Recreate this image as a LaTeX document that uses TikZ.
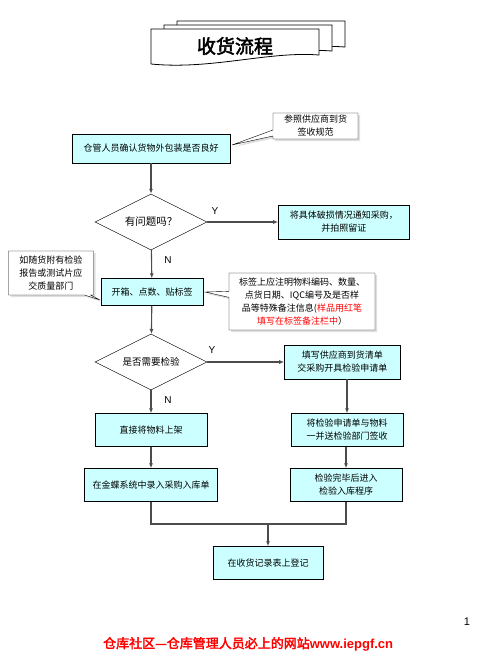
\documentclass[tikz,border=0pt]{standalone}
\usepackage{fontspec}
\setmainfont{Liberation Serif}
\setsansfont{Liberation Sans}
\newfontfamily\cjk[AutoFakeBold=2.5]{Noto Sans CJK SC}
\usetikzlibrary{arrows.meta, positioning, shapes.geometric, shapes.callouts, shadows}
\definecolor{boxfill}{HTML}{CCFFFF}
\newcommand{\pagesheet}[2]{%
  \draw[fill=white, line width=0.8pt] (#1,#2) -- ++(168,0) -- ++(0,26)
    .. controls ++(-50,-4) and ++(60,6) .. ++(-168,9) -- cycle;}

\begin{document}
\begin{tikzpicture}[x=1pt, y=-1pt,
  stepbox/.style={rectangle, draw, fill=boxfill, align=center, inner sep=2pt, font=\cjk\fontsize{9}{13}\selectfont},
  decision/.style={diamond, draw, aspect=2, inner sep=0pt, minimum width=112pt, minimum height=56pt},
  note/.style={rectangle callout, draw, fill=white, align=center, inner sep=2pt, callout pointer width=6pt,
    drop shadow={shadow xshift=2pt, shadow yshift=-2pt, opacity=0.25}, font=\cjk\fontsize{9}{13}\selectfont},
  arrow/.style={-{Latex[length=5pt,width=4pt]}, line width=1.1pt, draw=black!70},
  flow/.style={line width=1.1pt, draw=black!70},
  yn/.style={font=\sffamily\fontsize{10}{12}\selectfont}
]
  \useasboundingbox (0,0) rectangle (503,670);
  % Title sheets
  \pagesheet{177}{21}
  \pagesheet{164}{25}
  \pagesheet{151}{29}
  \node[font=\cjk\bfseries\fontsize{19}{22}\selectfont] (title) at (235,46) {收货流程};
  % Main column
  \node[stepbox, minimum width=158pt, minimum height=29pt] (check) at (151,148.5) {仓管人员确认货物外包装是否良好};
  \node[decision, font=\cjk\fontsize{10.5}{12}\selectfont] (prob) at (151,222) {有问题吗？};
  \node[stepbox, minimum width=102pt, minimum height=27pt] (open) at (152,292) {开箱、点数、贴标签};
  \node[decision, font=\cjk\fontsize{9.5}{12}\selectfont] (need) at (151,362) {是否需要检验};
  \node[stepbox, minimum width=112pt, minimum height=33pt] (shelf) at (151,430) {直接将物料上架};
  \node[stepbox, minimum width=133pt, minimum height=33pt] (entry) at (151,485) {在金蝶系统中录入采购入库单};
  % Right column
  \node[stepbox, minimum width=131pt, minimum height=34pt, right=71pt of prob] (damage) {将具体破损情况通知采购，\\并拍照留证};
  \node[stepbox, minimum width=116pt, minimum height=34pt, right=77pt of need] (apply) {填写供应商到货清单\\交采购开具检验申请单};
  \node[stepbox, minimum width=112pt, minimum height=33pt] (send) at (347,430) {将检验申请单与物料\\一并送检验部门签收};
  \node[stepbox, minimum width=112pt, minimum height=33pt] (finish) at (346,485) {检验完毕后进入\\检验入库程序};
  \node[stepbox, minimum width=110pt, minimum height=33pt] (record) at (268,563) {在收货记录表上登记};
  % Notes
  \node[note, minimum width=85pt, minimum height=26pt, callout absolute pointer={(232,145)}] (rule) at (315.5,126) {参照供应商到货\\签收规范};
  \node[note, minimum width=85pt, minimum height=44pt, callout absolute pointer={(100,300)}] (report) at (51,273) {如随货附有检验\\报告或测试片应\\交质量部门};
  \node[note, minimum width=146pt, minimum height=57pt, callout absolute pointer={(205,292)}] (label) at (302,301.5)
    {标签上应注明物料编码、数量、\\点货日期、IQC编号及是否样\\品等特殊备注信息({\color{red}样品用红笔}\\{\color{red}填写在标签备注栏中}）};
  % Arrows
  \draw[arrow] (check) -- (prob);
  \draw[arrow] (prob) -- (damage);
  \draw[arrow] (prob) -- (open);
  \draw[arrow] (open) -- (need);
  \draw[arrow] (need) -- (apply);
  \draw[arrow] (need) -- (shelf);
  \draw[arrow] (shelf) -- (entry);
  \draw[arrow] (apply.south -| send) -- (send);
  \draw[arrow] (send.south -| finish) -- (finish);
  \coordinate (merge) at (268,524);
  \draw[flow] (entry.south) |- (merge) -| (finish.south);
  \draw[arrow] (merge) -- (record);
  % Y / N
  \node[yn] (y1) at (215,211) {Y};
  \node[yn] (n1) at (168,260) {N};
  \node[yn] (y2) at (212,350) {Y};
  \node[yn] (n2) at (168,400) {N};
  % Footer
  \node[font=\sffamily\fontsize{11}{13}\selectfont] (pnum) at (467,622) {1};
  \node[anchor=west, inner sep=0pt, text=red, font=\cjk\bfseries\fontsize{13}{15}\selectfont] (site) at (103,644)
    {仓库社区—仓库管理人员必上的网站{\sffamily\bfseries www.iepgf.cn}};
\end{tikzpicture}
\end{document}
